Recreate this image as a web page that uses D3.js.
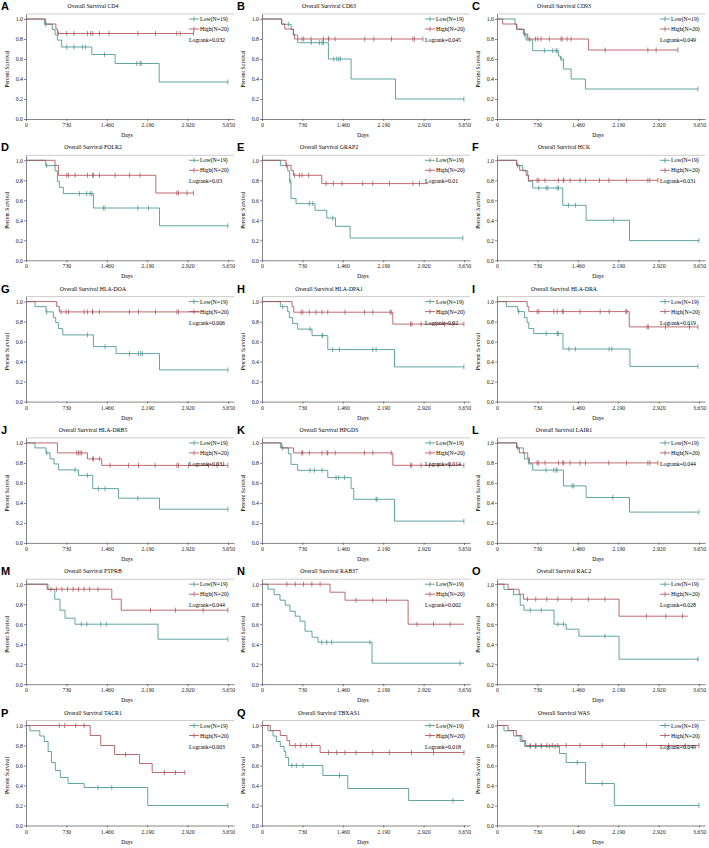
<!DOCTYPE html>
<html><head><meta charset="utf-8">
<script src="https://cdn.jsdelivr.net/npm/d3@7"></script>
<style>body{margin:0;background:#fff}svg{display:block}</style>
</head><body>
<script>
const letters=["A","B","C","D","E","F","G","H","I","J","K","L","M","N","O","P","Q","R"];
const genes=["CD4","CD63","CD93","FOLR2","GRAP2","HCK","HLA-DOA","HLA-DPA1","HLA-DRA","HLA-DRB5","HPGDS","LAIR1","PTPRB","RAB37","RAC2","TACR1","TBXAS1","WAS"];
const logranks=["0.032","0.045","0.049","0.03","0.01","0.031","0.006","0.02","0.019","0.031","0.014","0.044","0.044","0.002","0.028","0.003","0.018","0.049"];
const xTicks=[0,730,1460,2190,2920,3650];
const yTicks=[0,0.2,0.4,0.6,0.8,1.0];
const legendLabels=["Low(N=19)","High(N=20)"];

const lowSteps=[
[[332,0.947],[476,0.895],[525,0.842],[567,0.789],[645,0.72],[1188,0.645],[1610,0.555],[2406,0.37]],
[[356,0.947],[525,0.895],[567,0.84],[645,0.763],[1200,0.60],[1610,0.40],[2412,0.20]],
[[326,0.947],[356,0.895],[494,0.842],[525,0.79],[645,0.683],[1110,0.63],[1146,0.60],[1200,0.50],[1339,0.40],[1598,0.30]],
[[356,0.947],[525,0.895],[567,0.79],[603,0.73],[675,0.667],[1218,0.523],[2412,0.345]],
[[332,0.947],[464,0.895],[500,0.79],[525,0.617],[615,0.567],[958,0.50],[1170,0.423],[1327,0.34],[1592,0.223]],
[[356,0.947],[464,0.895],[555,0.85],[567,0.79],[645,0.723],[1188,0.55],[1610,0.40],[2394,0.197]],
[[163,0.95],[362,0.897],[494,0.84],[537,0.79],[585,0.73],[664,0.667],[1218,0.55],[1628,0.48],[2412,0.317]],
[[332,0.95],[464,0.90],[494,0.84],[555,0.78],[645,0.725],[904,0.66],[1188,0.52],[2394,0.347]],
[[169,0.95],[375,0.90],[496,0.84],[544,0.79],[575,0.73],[665,0.68],[1192,0.526],[2402,0.352]],
[[163,0.95],[362,0.90],[434,0.84],[506,0.79],[585,0.73],[947,0.675],[1206,0.543],[1670,0.447],[2412,0.337]],
[[332,0.95],[476,0.89],[525,0.785],[645,0.726],[1188,0.653],[1610,0.545],[1658,0.436],[2394,0.218]],
[[356,0.95],[476,0.90],[494,0.84],[567,0.79],[645,0.728],[1200,0.57],[1610,0.454],[2394,0.308]],
[[398,0.947],[520,0.85],[614,0.74],[705,0.66],[885,0.60],[2385,0.45]],
[[108,0.95],[220,0.895],[325,0.84],[420,0.79],[506,0.73],[600,0.68],[687,0.63],[777,0.53],[904,0.47],[1012,0.42],[1988,0.21]],
[[126,0.947],[300,0.895],[420,0.79],[488,0.74],[1030,0.60],[1250,0.55],[1480,0.48],[2205,0.25]],
[[72,0.947],[250,0.895],[330,0.84],[400,0.74],[460,0.63],[530,0.55],[620,0.48],[760,0.42],[1050,0.38],[2200,0.2]],
[[108,0.947],[200,0.895],[260,0.84],[330,0.79],[400,0.74],[430,0.68],[480,0.6],[1100,0.5],[1550,0.37],[2650,0.25]],
[[126,0.947],[300,0.895],[420,0.84],[500,0.79],[1130,0.72],[1250,0.63],[1600,0.42],[2120,0.2]]
];
const lowCensors=[
[360,736,868,1019,1073,1417,2002,2062,2080,3648],
[476,890,1037,1085,1110,1297,1351,1387,1417,3648],
[500,856,1007,1067,1085,1160,3630],
[374,965,1097,1158,1188,1399,1429,2020,2213,3648],
[507,856,917,1278,3630],
[374,754,886,917,1085,1110,1290,1417,2104,3648],
[374,1110,1429,1869,2032,2074,2104,3648],
[374,868,1085,1097,1278,1399,2002,2062,3648],
[393,889,1089,1107,1301,1416,2027,2075,3630],
[374,886,1110,1309,1429,2020,3648],
[374,868,947,1085,1339,1387,1489,2062,2080,3648],
[374,886,1025,1067,1085,1357,1387,2092,3648],
[1000,1100,1350,1450,3648],
[1080,1170,1260,1950,3580],
[600,800,1100,1200,1950,3630],
[1300,1550,3648],
[540,620,740,1400,3450],
[600,700,800,950,1050,1450,1900,3648]
];
const lowEnd=[3648,3648,3630,3648,3630,3648,3648,3648,3630,3648,3648,3648,3648,3650,3650,3648,3650,3648];

const highSteps=[
[[356,0.95],[540,0.90],[567,0.855]],
[[356,0.95],[410,0.90],[567,0.85],[585,0.80]],
[[102,0.95],[356,0.90],[476,0.85],[555,0.80],[1652,0.69]],
[[525,0.95],[585,0.85],[2346,0.673]],
[[434,0.95],[525,0.90],[567,0.85],[1080,0.767]],
[[356,0.95],[410,0.90],[525,0.85],[567,0.80]],
[[555,0.95],[603,0.897]],
[[543,0.95],[573,0.894],[2364,0.775]],
[[545,0.95],[575,0.90],[2390,0.747]],
[[567,0.90],[1110,0.84],[1369,0.775]],
[[356,0.95],[567,0.90],[2364,0.776]],
[[356,0.95],[404,0.90],[555,0.85],[585,0.80]],
[[380,0.95],[1550,0.85],[1720,0.74]],
[[1229,0.92],[1500,0.84],[2640,0.6]],
[[200,0.95],[400,0.90],[480,0.85],[2205,0.68]],
[[1160,0.9],[1350,0.8],[1600,0.71],[2050,0.62],[2280,0.53]],
[[150,0.95],[330,0.9],[450,0.85],[500,0.8],[1050,0.73]],
[[200,0.95],[350,0.9],[450,0.85],[520,0.8]]
];
const highCensors=[
[585,736,868,1110,1170,1206,1327,1501,2020,2340,2726,2786,3027],
[724,754,886,1110,1200,1206,1321,1857,2020,2340,2726,2756,2908],
[585,694,736,796,946,1158,1176,1266,1339,1955,2726,2876,3269],
[736,766,886,1110,1206,1218,1327,1610,1869,2062,2726,2756,2908,3027],
[440,585,675,724,844,1158,1290,1447,1821,2002,2304,2726,2846],
[724,754,868,1110,1200,1206,1321,1501,1598,1851,2020,2340,2726,2762,2908],
[633,724,766,1049,1110,1200,1206,1327,1869,2032,2340,2726,2756],
[706,736,856,977,1085,1188,1501,1851,2002,2316,2334,2683,2708,2876,3148,3299,3450,3648],
[726,756,1029,1089,1180,1198,1501,1864,2027,2329,2347,2711,2735,3044,3479,3630],
[917,947,977,1007,1206,1218,1327,1520,1851,2032,2334,2726,2756,2937,3299,3450,3648],
[717,736,856,1085,1176,1188,1321,1851,2002,2334,2683,2708,2876,3027,3178,3389,3648],
[724,748,868,1110,1188,1206,1321,1501,1598,2020,2340,2726,2762,2908],
[450,550,650,750,850,950,1050,1150,1300,2250,2700,3200,3648],
[450,600,750,900,1050,1700,2000,2250,2800,3100,3400],
[550,700,900,1100,1350,1650,1950,2700,3050,3350],
[600,700,900,1050,1800,2500,2700,2870],
[600,700,800,900,1200,1350,1500,1700,2000,2300,2700,3100,3650],
[600,700,800,900,1000,1100,1250,1500,1900,2300,2700,3100,3400,3650]
];
const highEnd=[3027,2908,3269,3027,3000,2908,3148,3648,3630,3648,3648,2908,3648,3650,3450,2870,3650,3650];

const COL_LOW="#3b8d8d", COL_HIGH="#a9464f";
const FONT="'Liberation Serif','DejaVu Serif',serif";
const colX=[0,236,471], rowH=141.3;

const svg=d3.select("body").append("svg").attr("width",709).attr("height",848);
const x=d3.scaleLinear().domain([0,3760]).range([26,234.1]);
const y=d3.scaleLinear().domain([0,1.05]).range([119,14]);

function survAt(steps,t){let s=1;for(const [tt,v] of steps){if(tt<=t)s=v;}return s;}
function stepPath(steps,end){
  const p=d3.path();p.moveTo(x(0),y(1));let cur=1;
  for(const [t,s] of steps){p.lineTo(x(t),y(cur));p.lineTo(x(t),y(s));cur=s;}
  p.lineTo(x(end),y(cur));return p.toString();
}

letters.forEach((L,i)=>{
  const g=svg.append("g").attr("transform",`translate(${colX[i%3]},${Math.floor(i/3)*rowH})`);
  g.append("text").attr("x",1).attr("y",10).text(L)
    .attr("font-family","'Liberation Sans',Arial,sans-serif").attr("font-weight","bold").attr("font-size",11);
  g.append("text").attr("x",93).attr("y",8).attr("text-anchor","middle")
    .attr("font-family",FONT).attr("font-size",5.8).text("Overall Survival "+genes[i]);
  // top frame
  g.append("line").attr("x1",x(0)).attr("x2",x(3760)).attr("y1",y(1.05)).attr("y2",y(1.05)).attr("stroke","#aaa").attr("stroke-width",0.6);
  const ya=g.append("g").attr("transform",`translate(${x(0)},0)`)
    .call(d3.axisLeft(y).tickValues(yTicks).tickFormat(d3.format(".1f")).tickSize(2).tickSizeOuter(0));
  const xa=g.append("g").attr("transform",`translate(0,${y(0)})`)
    .call(d3.axisBottom(x).tickValues(xTicks).tickFormat(d=>d>=1000?d3.format(",")(d).replace(",","."):d).tickSize(2).tickSizeOuter(0));
  [ya,xa].forEach(a=>{a.selectAll("text").attr("font-family",FONT).attr("font-size",5.8).attr("fill","#222");
    a.selectAll("path,line").attr("stroke","#333").attr("stroke-width",0.6);});
  ya.selectAll("text").attr("x",-3);
  xa.selectAll("text").attr("y",4);
  g.append("text").attr("x",127).attr("y",137).attr("text-anchor","middle").attr("font-family",FONT).attr("font-size",5.6).text("Days");
  g.append("text").attr("transform","translate(9,69) rotate(-90)").attr("text-anchor","middle").attr("font-family",FONT).attr("font-size",5.6).text("Percent Survival");
  const curves=[[lowSteps[i],lowCensors[i],lowEnd[i],COL_LOW],[highSteps[i],highCensors[i],highEnd[i],COL_HIGH]];
  curves.forEach(([st,cs,end,col])=>{
    g.append("path").attr("d",stepPath(st,end)).attr("fill","none").attr("stroke",col).attr("stroke-width",0.8);
    g.selectAll(null).data(cs).enter().append("line")
      .attr("x1",d=>x(d)).attr("x2",d=>x(d)).attr("y1",d=>y(survAt(st,d))-2.5).attr("y2",d=>y(survAt(st,d))+2.5)
      .attr("stroke",col).attr("stroke-width",0.7);
  });
  // legend
  [[COL_LOW,legendLabels[0],19],[COL_HIGH,legendLabels[1],29]].forEach(([c,t,ly])=>{
    g.append("line").attr("x1",189).attr("x2",199).attr("y1",ly).attr("y2",ly).attr("stroke",c).attr("stroke-width",0.8);
    g.append("line").attr("x1",194).attr("x2",194).attr("y1",ly-2.5).attr("y2",ly+2.5).attr("stroke",c).attr("stroke-width",0.7);
    g.append("text").attr("x",200).attr("y",ly+2).attr("font-family",FONT).attr("font-size",5.8).text(t);
  });
  g.append("text").attr("x",189).attr("y",42).attr("font-family",FONT).attr("font-size",5.8).text("Logrank="+logranks[i]);
});
</script>
</body></html>
